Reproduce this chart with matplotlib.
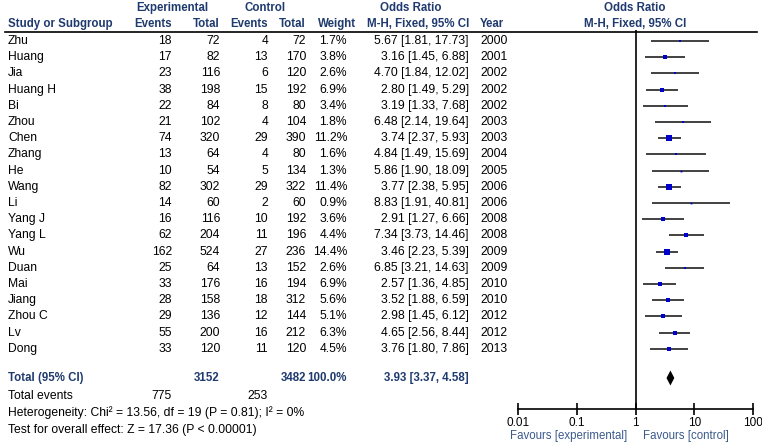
import numpy as np
import matplotlib.pyplot as plt

plt.rcParams['font.family'] = ['Liberation Sans', 'DejaVu Sans']

# datos de los estudios
estudios = ['Zhu', 'Huang', 'Jia', 'Huang H', 'Bi', 'Zhou', 'Chen', 'Zhang', 'He', 'Wang',
            'Li', 'Yang J', 'Yang L', 'Wu', 'Duan', 'Mai', 'Jiang', 'Zhou C', 'Lv', 'Dong']
exp_eventos = [18, 17, 23, 38, 22, 21, 74, 13, 10, 82, 14, 16, 62, 162, 25, 33, 28, 29, 55, 33]
exp_total = [72, 82, 116, 198, 84, 102, 320, 64, 54, 302, 60, 116, 204, 524, 64, 176, 158, 136, 200, 120]
ctl_eventos = [4, 13, 6, 15, 8, 4, 29, 4, 5, 29, 2, 10, 11, 27, 13, 16, 18, 12, 16, 11]
ctl_total = [72, 170, 120, 192, 80, 104, 390, 80, 134, 322, 60, 192, 196, 236, 152, 194, 312, 144, 212, 120]
peso = [1.7, 3.8, 2.6, 6.9, 3.4, 1.8, 11.2, 1.6, 1.3, 11.4, 0.9, 3.6, 4.4, 14.4, 2.6, 6.9, 5.6, 5.1, 6.3, 4.5]
orr = [5.67, 3.16, 4.70, 2.80, 3.19, 6.48, 3.74, 4.84, 5.86, 3.77, 8.83, 2.91, 7.34, 3.46, 6.85, 2.57, 3.52, 2.98, 4.65, 3.76]
ic_inf = [1.81, 1.45, 1.84, 1.49, 1.33, 2.14, 2.37, 1.49, 1.90, 2.38, 1.91, 1.27, 3.73, 2.23, 3.21, 1.36, 1.88, 1.45, 2.56, 1.80]
ic_sup = [17.73, 6.88, 12.02, 5.29, 7.68, 19.64, 5.93, 15.69, 18.09, 5.95, 40.81, 6.66, 14.46, 5.39, 14.63, 4.85, 6.59, 6.12, 8.44, 7.86]
anios = [2000, 2001, 2002, 2002, 2002, 2003, 2003, 2004, 2005, 2006, 2006, 2008, 2008, 2009, 2009, 2010, 2010, 2012, 2012, 2013]

total_exp, total_ctl = 3152, 3482
eventos_exp, eventos_ctl = 775, 253
or_global, or_inf, or_sup = 3.93, 3.37, 4.58
ticks_or = [0.01, 0.1, 1, 10, 100]

W, H = 762, 445
color_cab = '#1f3a6e'
color_fav = '#3b5a8c'
fs = 8.7
fs_b = 8.3

fig = plt.figure(figsize=(W / 100, H / 100), dpi=100)

# eje de la tabla en coordenadas de pixel
tab = fig.add_axes([0, 0, 1, 1])
tab.set_xlim(0, W)
tab.set_ylim(H, 0)
tab.axis('off')

def txt(x, y, s, ha='right', bold=False, color='black', size=None):
    if size is None:
        size = fs_b if bold else fs
    tab.text(x, y, s, ha=ha, va='center', fontsize=size,
             fontweight='bold' if bold else 'normal', color=color)

# cabecera
y1, y2 = 8, 24
txt(172, y1, 'Experimental', ha='center', bold=True, color=color_cab)
txt(265, y1, 'Control', ha='center', bold=True, color=color_cab)
txt(411, y1, 'Odds Ratio', ha='center', bold=True, color=color_cab)
txt(635, y1, 'Odds Ratio', ha='center', bold=True, color=color_cab)
txt(8, y2, 'Study or Subgroup', ha='left', bold=True, color=color_cab)
txt(172, y2, 'Events', bold=True, color=color_cab)
txt(220, y2, 'Total', bold=True, color=color_cab)
txt(268, y2, 'Events', bold=True, color=color_cab)
txt(306, y2, 'Total', bold=True, color=color_cab)
txt(356, y2, 'Weight', bold=True, color=color_cab)
txt(469, y2, 'M-H, Fixed, 95% CI', bold=True, color=color_cab)
txt(480, y2, 'Year', ha='left', bold=True, color=color_cab)
txt(635, y2, 'M-H, Fixed, 95% CI', ha='center', bold=True, color=color_cab)
tab.plot([5, 757], [31.5, 31.5], color='black', lw=1.2)

# filas de estudios
filas_y = 41 + 16.2 * np.arange(len(estudios))
for i, y in enumerate(filas_y):
    txt(8, y, estudios[i], ha='left')
    txt(172, y, str(exp_eventos[i]))
    txt(220, y, str(exp_total[i]))
    txt(268, y, str(ctl_eventos[i]))
    txt(306, y, str(ctl_total[i]))
    txt(347, y, f'{peso[i]:.1f}%')
    txt(469, y, f'{orr[i]:.2f} [{ic_inf[i]:.2f}, {ic_sup[i]:.2f}]')
    txt(480, y, str(anios[i]), ha='left')

y_tot = 378
txt(8, y_tot, 'Total (95% CI)', ha='left', bold=True, color=color_cab)
txt(220, y_tot, str(total_exp), bold=True, color=color_cab)
txt(306, y_tot, str(total_ctl), bold=True, color=color_cab)
txt(347, y_tot, '100.0%', bold=True, color=color_cab)
txt(469, y_tot, f'{or_global:.2f} [{or_inf:.2f}, {or_sup:.2f}]', bold=True, color=color_cab)
txt(8, 396, 'Total events', ha='left')
txt(172, 396, str(eventos_exp))
txt(268, 396, str(eventos_ctl))
txt(8, 413, 'Heterogeneity: Chi\u00b2 = 13.56, df = 19 (P = 0.81); I\u00b2 = 0%', ha='left')
txt(8, 430, 'Test for overall effect: Z = 17.36 (P < 0.00001)', ha='left')

# eje del forest plot
x0, x1 = 518, 753
ytop, ybot = 30, 409
ax = fig.add_axes([x0 / W, 1 - ybot / H, (x1 - x0) / W, (ybot - ytop) / H])
ax.set_xscale('log')
ax.set_xlim(0.01, 100)
ax.set_ylim(ybot, ytop)
ax.patch.set_alpha(0)
for s in ['top', 'right', 'left']:
    ax.spines[s].set_visible(False)
ax.spines['bottom'].set_linewidth(1.2)
ax.set_yticks([])
ax.set_xticks(ticks_or)
ax.set_xticklabels(['0.01', '0.1', '1', '10', '100'], fontsize=8.5)
ax.minorticks_off()
ax.tick_params(axis='x', direction='inout', length=9, width=1.2, pad=1)
ax.axvline(1, color='black', lw=1.2)

for i, y in enumerate(filas_y):
    ax.plot([ic_inf[i], ic_sup[i]], [y, y], color='#333333', lw=1.3, solid_capstyle='butt')
    lado = 1.6 * np.sqrt(peso[i])
    ax.plot(orr[i], y, marker='s', color='#0000cc', ms=max(lado, 1.8) * 0.72, mew=0)

# diamante del efecto global
ax.fill([or_inf, or_global, or_sup, or_global], [y_tot, y_tot - 7.5, y_tot, y_tot + 7.5],
        color='black', lw=0)

txt(627, 436, 'Favours [experimental]', color=color_fav, size=8.3)
txt(643, 436, 'Favours [control]', ha='left', color=color_fav, size=8.3)

fig.savefig('out.png', dpi=100)
